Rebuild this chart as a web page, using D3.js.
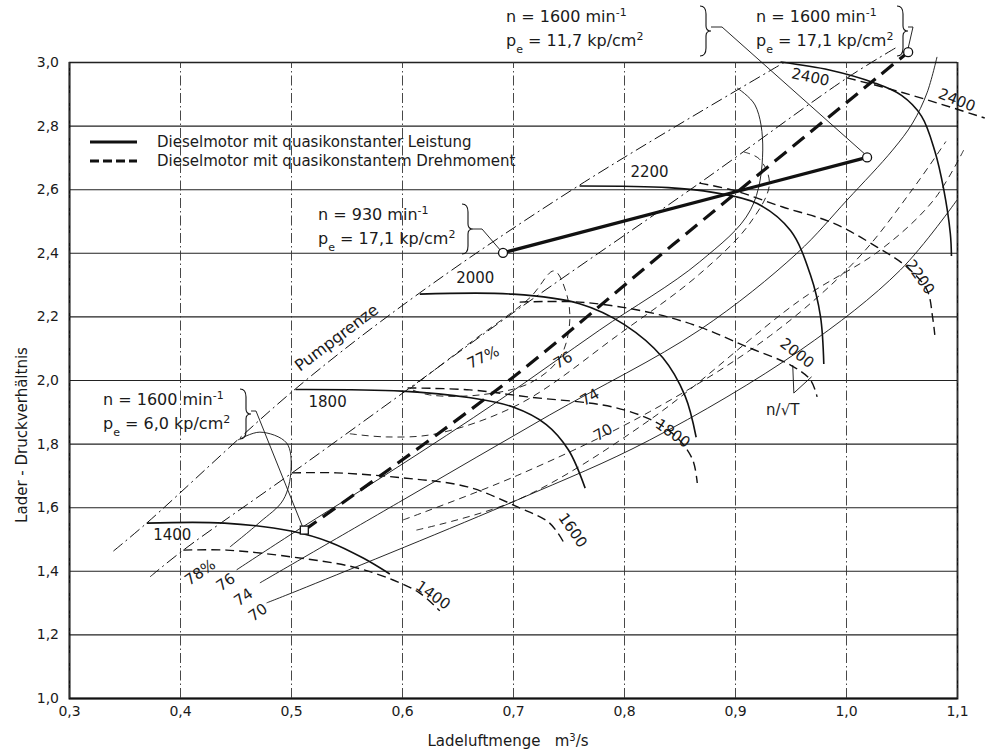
<!DOCTYPE html>
<html>
<head>
<meta charset="utf-8">
<script src="https://cdn.jsdelivr.net/npm/d3@7/dist/d3.min.js"></script>
<style>
  body { margin: 0; background: #fff; }
  text { font-family: "DejaVu Sans", sans-serif; fill: #1a1a1a; }
</style>
</head>
<body>
<script>
// axis ticks
var xTicks = [0.3, 0.4, 0.5, 0.6, 0.7, 0.8, 0.9, 1.0, 1.1];
var yTicks = [1.0, 1.2, 1.4, 1.6, 1.8, 2.0, 2.2, 2.4, 2.6, 2.8, 3.0];

// speed lines n/sqrt(T), solid set
var speedSolid1400 = [[0.370,1.55],[0.44,1.55],[0.50,1.525],[0.535,1.49],[0.565,1.44],[0.589,1.39]];
var speedSolid1800 = [[0.504,1.97],[0.60,1.965],[0.66,1.945],[0.70,1.915],[0.73,1.86],[0.75,1.78],[0.765,1.66]];
var speedSolid2000 = [[0.616,2.27],[0.70,2.27],[0.76,2.24],[0.80,2.175],[0.835,2.07],[0.855,1.95],[0.865,1.82]];
var speedSolid2200 = [[0.76,2.61],[0.84,2.605],[0.88,2.59],[0.92,2.555],[0.95,2.47],[0.968,2.33],[0.977,2.20],[0.98,2.05]];
var speedSolid2400 = [[0.941,3.0],[0.985,2.975],[1.025,2.935],[1.05,2.895],[1.068,2.83],[1.08,2.72],[1.088,2.60],[1.094,2.46],[1.095,2.39]];

// speed lines, dashed set
var speedDash1400 = [[0.403,1.465],[0.442,1.465],[0.502,1.443],[0.556,1.412],[0.592,1.371],[0.616,1.330],[0.634,1.274]];
var speedDash1600 = [[0.501,1.708],[0.541,1.708],[0.601,1.692],[0.659,1.664],[0.704,1.601],[0.733,1.550],[0.747,1.481]];
var speedDash1800 = [[0.605,1.975],[0.661,1.969],[0.713,1.947],[0.790,1.915],[0.830,1.865],[0.850,1.811],[0.862,1.748],[0.866,1.676]];
var speedDash2000 = [[0.706,2.245],[0.760,2.245],[0.821,2.214],[0.868,2.167],[0.911,2.104],[0.950,2.047],[0.968,2.0],[0.974,1.947]];
var speedDash2200 = [[0.868,2.619],[0.898,2.597],[0.943,2.544],[0.988,2.494],[1.028,2.418],[1.055,2.355],[1.073,2.283],[1.078,2.198],[1.080,2.142]];
var speedDash2400 = [[1.001,2.950],[1.05,2.905],[1.125,2.824]];

// surge limits (Pumpgrenze)
var surgeSolid = [[0.340,1.462],[0.370,1.550],[0.504,1.972],[0.616,2.274],[0.760,2.613],[0.945,3.0]];
var surgeDash = [[0.373,1.381],[0.403,1.465],[0.501,1.708],[0.607,1.975],[0.706,2.226],[0.868,2.619],[1.001,2.950],[1.046,3.047]];

// efficiency contours
var effSolid78 = [[0.452,1.811],[0.472,1.836],[0.496,1.802],[0.500,1.717],[0.493,1.623],[0.472,1.553],[0.445,1.475]];
var effSolid76 = [[0.451,1.403],[0.502,1.519],[0.592,1.717],[0.688,1.937],[0.778,2.157],[0.868,2.371],[0.914,2.535],[0.925,2.723],[0.918,2.865],[0.902,2.918]];
var effSolid74 = [[0.472,1.362],[0.601,1.623],[0.733,1.890],[0.868,2.157],[0.956,2.399],[1.001,2.566],[1.042,2.723],[1.060,2.808],[1.073,2.903],[1.082,3.016]];
var effSolid70 = [[0.478,1.299],[0.514,1.349],[0.704,1.623],[0.823,1.811],[0.959,2.094],[1.049,2.346],[1.10,2.566]];
var effDash77 = [[0.607,1.972],[0.661,2.116],[0.715,2.258],[0.737,2.343],[0.748,2.274],[0.751,2.179],[0.742,2.069],[0.715,1.990],[0.670,1.953],[0.625,1.953],[0.607,1.972]];
var effDash76 = [[0.553,1.831],[0.586,1.821],[0.631,1.831],[0.706,1.925],[0.796,2.145],[0.868,2.333],[0.913,2.491],[0.931,2.617],[0.922,2.695],[0.908,2.717]];
var effDash74 = [[0.601,1.560],[0.704,1.700],[0.823,1.900],[0.932,2.140],[1.01,2.38],[1.06,2.60],[1.09,2.75]];
var effDash70 = [[0.613,1.528],[0.704,1.623],[0.823,1.874],[0.959,2.252],[1.031,2.409],[1.079,2.566],[1.106,2.723]];

// operating lines of the diesel engine
var opPower = [[0.691,2.40],[1.019,2.70]];
var opTorque = [[0.512,1.528],[0.691,1.984],[0.844,2.425],[1.056,3.031]];

var legendNames = ["Dieselmotor mit quasikonstanter Leistung", "Dieselmotor mit quasikonstantem Drehmoment"];

var W = 989, H = 753;
var x = d3.scaleLinear().domain([0.3, 1.1]).range([69, 957]);
var y = d3.scaleLinear().domain([1.0, 3.0]).range([698, 62]);
var comma = function(v){ return d3.format(".1f")(v).replace(".", ","); };

var svg = d3.select("body").append("svg")
  .attr("width", W).attr("height", H)
  .style("background", "#fff");

// grid: horizontal solid, vertical dash-dot
svg.append("g")
  .attr("transform", "translate(" + x(0.3) + ",0)")
  .call(d3.axisLeft(y).tickValues(yTicks).tickFormat(comma).tickSize(-(x(1.1) - x(0.3))).tickPadding(10))
  .call(function(g){
    g.select(".domain").attr("stroke", "#111").attr("stroke-width", 1.4);
    g.selectAll(".tick line").attr("stroke", "#222").attr("stroke-width", 1.1);
    g.selectAll(".tick text").attr("font-size", 14).attr("fill", "#222")
      .attr("font-family", "DejaVu Sans");
  });

svg.append("g")
  .attr("transform", "translate(0," + y(1.0) + ")")
  .call(d3.axisBottom(x).tickValues(xTicks).tickFormat(comma).tickSize(-(y(1.0) - y(3.0))).tickPadding(8))
  .call(function(g){
    g.select(".domain").attr("stroke", "#111").attr("stroke-width", 1.8);
    g.selectAll(".tick line").attr("stroke", "#333").attr("stroke-width", 0.9)
      .attr("stroke-dasharray", "10,3,1.5,3");
    g.selectAll(".tick text").attr("font-size", 14).attr("fill", "#222")
      .attr("font-family", "DejaVu Sans");
  });

var line = d3.line().x(function(d){ return x(d[0]); }).y(function(d){ return y(d[1]); })
  .curve(d3.curveCatmullRom.alpha(0.5));

var plot = svg.append("g");

function draw(pts, w, dash) {
  plot.append("path").datum(pts)
    .attr("d", line)
    .attr("fill", "none")
    .attr("stroke", "#111")
    .attr("stroke-width", w)
    .attr("stroke-dasharray", dash || null)
    .attr("stroke-linejoin", "round");
}

// surge lines
draw(surgeSolid, 1.0, "12,4,2,4");
draw(surgeDash, 1.0, "12,4,2,4");

// efficiency contours
[effSolid78, effSolid76, effSolid74, effSolid70].forEach(function(c){ draw(c, 0.9); });
[effDash77, effDash76, effDash74, effDash70].forEach(function(c){ draw(c, 0.9, "7,5"); });

// speed lines
[speedSolid1400, speedSolid1800, speedSolid2000, speedSolid2200, speedSolid2400]
  .forEach(function(c){ draw(c, 1.6); });
[speedDash1400, speedDash1600, speedDash1800, speedDash2000, speedDash2200, speedDash2400]
  .forEach(function(c){ draw(c, 1.4, "9,5"); });

// operating lines
draw(opPower, 3.2);
draw(opTorque, 3.2, "15,8");

// end markers
[opPower[0], opPower[1], opTorque[opTorque.length - 1]].forEach(function(p){
  plot.append("circle").attr("cx", x(p[0])).attr("cy", y(p[1])).attr("r", 4.5)
    .attr("fill", "#fff").attr("stroke", "#111").attr("stroke-width", 1.3);
});
plot.append("rect")
  .attr("x", x(opTorque[0][0]) - 4).attr("y", y(opTorque[0][1]) - 4)
  .attr("width", 8).attr("height", 8)
  .attr("fill", "#fff").attr("stroke", "#111").attr("stroke-width", 1.3);

// labels on the curves
var curveLabels = [
  {t: "1400", x: 0.393, y: 1.513, r: 0},
  {t: "1800", x: 0.533, y: 1.931, r: 0},
  {t: "2000", x: 0.666, y: 2.321, r: 0},
  {t: "2200", x: 0.823, y: 2.654, r: 0},
  {t: "2400", x: 0.968, y: 2.953, r: 12},
  {t: "1400", x: 0.628, y: 1.324, r: 35},
  {t: "1600", x: 0.754, y: 1.528, r: 55},
  {t: "1800", x: 0.844, y: 1.833, r: 35},
  {t: "2000", x: 0.956, y: 2.085, r: 38},
  {t: "2200", x: 1.067, y: 2.324, r: 55},
  {t: "2400", x: 1.100, y: 2.881, r: 22},
  {t: "77%", x: 0.673, y: 2.072, r: -25},
  {t: "76", x: 0.745, y: 2.063, r: -30},
  {t: "74", x: 0.769, y: 1.947, r: -30},
  {t: "70", x: 0.781, y: 1.836, r: -30},
  {t: "78%", x: 0.418, y: 1.396, r: -35},
  {t: "76", x: 0.441, y: 1.365, r: -35},
  {t: "74", x: 0.457, y: 1.318, r: -35},
  {t: "70", x: 0.470, y: 1.270, r: -35}
];
plot.selectAll("text.cl").data(curveLabels).enter().append("text")
  .attr("class", "cl")
  .attr("transform", function(d){ return "translate(" + x(d.x) + "," + y(d.y) + ") rotate(" + d.r + ")"; })
  .attr("text-anchor", "middle").attr("dy", "0.35em")
  .attr("font-size", 15)
  .text(function(d){ return d.t; });

// Pumpgrenze
plot.append("text")
  .attr("transform", "translate(" + x(0.508) + "," + y(2.025) + ") rotate(-37)")
  .attr("font-size", 16).text("Pumpgrenze");

// n / sqrt(T)
plot.append("text").attr("x", x(0.943)).attr("y", y(1.906)).attr("dy", "0.35em")
  .attr("text-anchor", "middle").attr("font-size", 15).text("n/\u221AT");
plot.append("path")
  .attr("d", "M" + x(0.952) + "," + y(2.047) + "L" + x(0.953) + "," + y(1.959) + "L" + x(0.969) + "," + y(2.01))
  .attr("fill", "none").attr("stroke", "#111").attr("stroke-width", 0.9);

// operating point notes
function note(lines, tx, ty, bx, leader) {
  var g = svg.append("g");
  lines.forEach(function(l, i){
    var t = g.append("text").attr("x", tx).attr("y", ty + i * 24).attr("font-size", 16);
    l.forEach(function(s){
      var ts = t.append("tspan").text(s[0]);
      if (s[1]) ts.attr("baseline-shift", s[1]).attr("font-size", 11);
    });
  });
  g.append("path")
    .attr("d", "M" + bx + "," + (ty - 16) + "q6,0 6,8 v12 q0,5 5,5 q-5,0 -5,5 v12 q0,8 -6,8")
    .attr("fill", "none").attr("stroke", "#111").attr("stroke-width", 1.1);
  g.append("path").datum(leader)
    .attr("d", d3.line())
    .attr("fill", "none").attr("stroke", "#111").attr("stroke-width", 0.9);
}
note([[["n = 930  min"], ["-1", "super"]], [["p"], ["e", "sub"], [" = 17,1 kp/cm"], ["2", "super"]]],
  318, 220, 462, [[473, 229], [482, 229], [x(opPower[0][0]) - 3, y(opPower[0][1]) - 3]]);
note([[["n = 1600  min"], ["-1", "super"]], [["p"], ["e", "sub"], [" = 11,7 kp/cm"], ["2", "super"]]],
  506, 22, 700, [[711, 27], [722, 27], [x(opPower[1][0]) - 3, y(opPower[1][1]) - 4]]);
note([[["n = 1600  min"], ["-1", "super"]], [["p"], ["e", "sub"], [" = 17,1 kp/cm"], ["2", "super"]]],
  756, 22, 897, [[908, 27], [913, 27], [x(opTorque[3][0]), y(opTorque[3][1]) - 4]]);
note([[["n = 1600  min"], ["-1", "super"]], [["p"], ["e", "sub"], [" = 6,0 kp/cm"], ["2", "super"]]],
  103, 405, 240, [[251, 411], [256, 411], [x(opTorque[0][0]) - 2, y(opTorque[0][1]) - 4]]);

// legend
var leg = svg.append("g");
legendNames.forEach(function(n, i){
  var yy = 142 + i * 19;
  leg.append("line").attr("x1", 90).attr("x2", 137).attr("y1", yy).attr("y2", yy)
    .attr("stroke", "#111").attr("stroke-width", 3)
    .attr("stroke-dasharray", i ? "9,4" : null);
  leg.append("text").attr("x", 157).attr("y", yy).attr("dy", "0.35em")
    .attr("font-size", 15).text(n);
});

// axis titles
svg.append("text").attr("x", 508).attr("y", 746).attr("text-anchor", "middle")
  .attr("font-size", 15)
  .html('Ladeluftmenge&#160;&#160;&#160;m<tspan baseline-shift="super" font-size="10">3</tspan>/s');
svg.append("text").attr("transform", "translate(27,435) rotate(-90)")
  .attr("text-anchor", "middle").attr("font-size", 15).text("Lader - Druckverh\u00e4ltnis");
</script>
</body>
</html>
